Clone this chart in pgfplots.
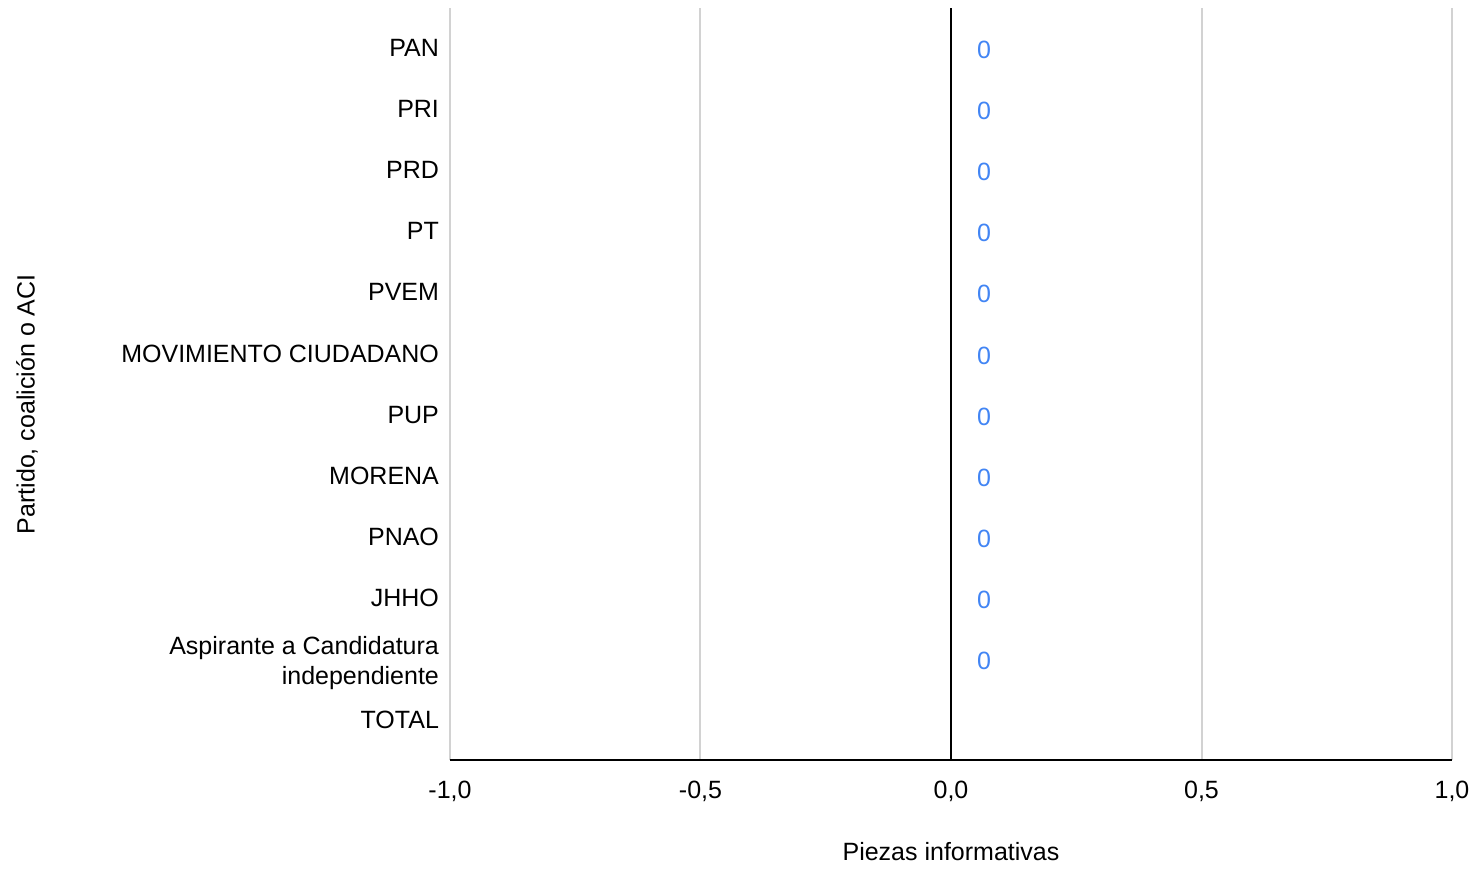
\documentclass[border=0pt]{standalone}
\usepackage{pgfplots}
\pgfplotsset{compat=1.18}
\usepackage{fontspec}
\setmainfont{Liberation Sans}
\definecolor{lblblue}{RGB}{66,133,244}
\definecolor{gridgray}{RGB}{210,210,210}
\begin{document}
\begin{tikzpicture}
\path[use as bounding box] (-225pt,-54pt) rectangle (513.5pt,380pt);
\begin{axis}[
  at={(0,0)}, anchor=south west,
  scale only axis, width=501pt, height=376pt,
  xmin=-1, xmax=1,
  ymin=-0.65, ymax=11.65, y dir=reverse,
  axis line style={draw=none},
  xtick={-1,-0.5,0.5,1},
  xticklabels={{-1{,}0},{-0{,}5},{0{,}5},{1{,}0}},
  extra x ticks={0},
  extra x tick labels={{0{,}0}},
  extra x tick style={grid style={black, line width=1pt}},
  xmajorgrids, grid style={gridgray, line width=1pt},
  major tick length=0pt,
  ytick={0,1,2,3,4,5,6,7,8,9,11},
  yticklabels={PAN,PRI,PRD,PT,PVEM,MOVIMIENTO CIUDADANO,PUP,MORENA,PNAO,JHHO,TOTAL},
  extra y ticks={10},
  extra y tick labels={{Aspirante a Candidatura\\independiente}},
  extra y tick style={yticklabel style={yshift=-2pt}},
  yticklabel style={align=right, font=\fontsize{12.5}{15}\selectfont, xshift=-2pt},
  xticklabel style={font=\fontsize{12.5}{15}\selectfont, yshift=-7pt},
  xlabel={Piezas informativas},
  ylabel={Partido, coalición o ACI},
  xlabel style={at={(axis description cs:0.5,-0.1223)}, anchor=center, font=\fontsize{12.5}{15}\selectfont},
  ylabel style={at={(axis description cs:-0.4222,0.473)}, anchor=center, font=\fontsize{12.5}{15}\selectfont},
  clip=false,
]
\addplot[only marks, mark=none, nodes near coords, point meta=explicit symbolic,
  every node near coord/.style={anchor=center, xshift=16.5pt, yshift=-1pt, text=lblblue, font=\fontsize{12.5}{15}\selectfont}]
  table[meta=label] {
x y label
0 0 0
0 1 0
0 2 0
0 3 0
0 4 0
0 5 0
0 6 0
0 7 0
0 8 0
0 9 0
0 10 0
};
\draw[black, line width=1.2pt] (rel axis cs:0,0) -- (rel axis cs:1,0);
\end{axis}
\end{tikzpicture}
\end{document}
